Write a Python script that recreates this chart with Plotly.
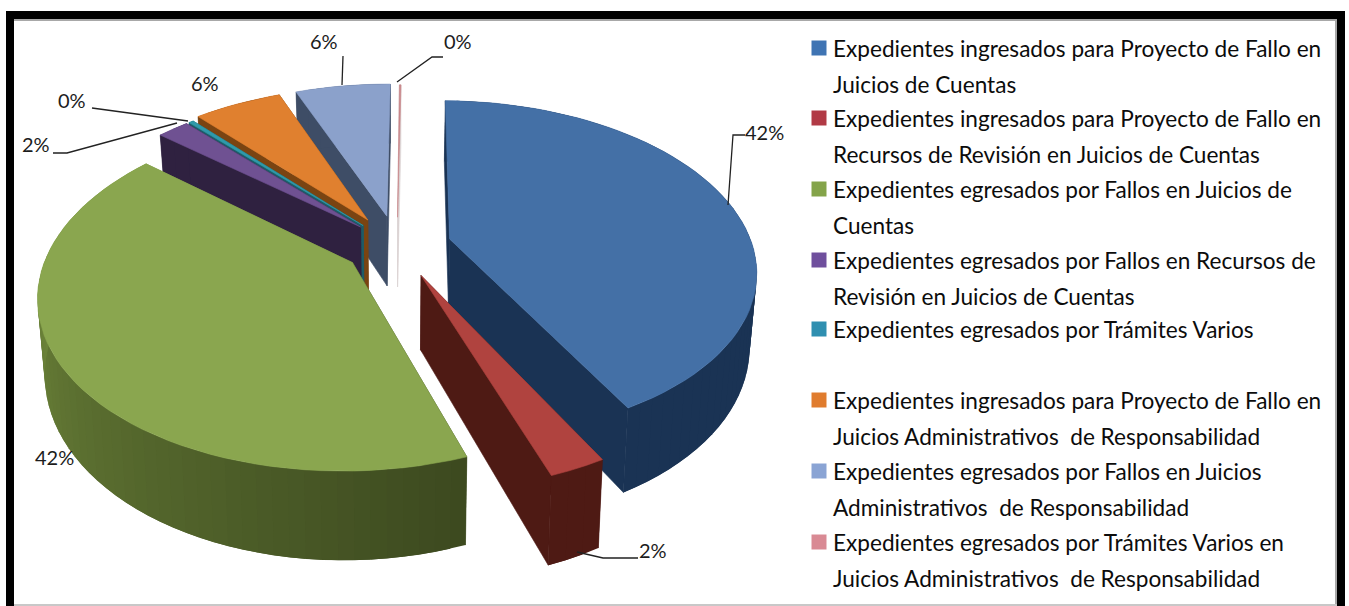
import math
import plotly.graph_objects as go

# ---- data ----
categories = [
    "Expedientes ingresados para Proyecto de Fallo en<br>Juicios de Cuentas",
    "Expedientes ingresados para Proyecto de Fallo en<br>Recursos de Revisión en Juicios de Cuentas",
    "Expedientes egresados por Fallos en Juicios de<br>Cuentas",
    "Expedientes egresados por Fallos en Recursos de<br>Revisión en Juicios de Cuentas",
    "Expedientes egresados por Trámites Varios",
    "Expedientes ingresados para Proyecto de Fallo en<br>Juicios Administrativos  de Responsabilidad",
    "Expedientes egresados por Fallos en Juicios<br>Administrativos  de Responsabilidad",
    "Expedientes egresados por Trámites Varios en<br>Juicios Administrativos  de Responsabilidad",
]
values = [41.9, 2.49, 41.55, 2.0, 0.3, 5.6, 6.06, 0.1]
pull = [0.18, 0.19, 0.175, 0.17, 0.17, 0.19, 0.19, 0.18]

top_colors = ["#4470a6", "#b0433f", "#8aa64f", "#6f5192", "#2f9aaa", "#e0802f", "#8ba1cb", "#c9868a"]
wall_start = ["#1a3354", "#4e1a14", "#3c491f", "#2f2140", "#1d5c68", "#7a4412", "#3e4d66", "#dcd4d4"]
wall_end = ["#1a3354", "#4e1a14", "#7f9b44", "#2f2140", "#1d5c68", "#7a4412", "#3e4d66", "#dcd4d4"]
legend_colors = ["#3f74b3", "#b13a45", "#84a44a", "#6f4f9d", "#2f8fb0", "#e07c2e", "#8aa4d4", "#d98a94"]

legend_y = [48, 118, 189, 260, 329, 400, 471, 542]
legend_dy = 36
label_xy = [(764, 132), (653, 550), (54, 457), (36, 144), (72, 100), (205, 83), (324, 41), (458, 41)]
leaders = [
    [(745, 135), (733, 135), (728, 205)],
    [(577, 552), (603, 558), (638, 558)],
    None,
    [(53, 153), (67, 153), (177, 123)],
    [(92, 108), (188, 121)],
    None,
    [(343, 56), (342, 85)],
    [(443, 57), (432, 57), (397, 82)],
]

# ---- projection of the tilted, exploded disc ----
CX, CY = 397, 246
A, B = 303, 165
K = 0.1765
DEPTH = 72
SHRINK = 0.98
ROTATION = math.radians(0.8)


def project(x, y, low=False):
    s = 1 / (1 - K * y)
    px = A * x * s
    py = CY + B * y * s
    if low:
        return CX + px * SHRINK, py + DEPTH * s
    return CX + px, py


def hexmix(a, b, t):
    ca = [int(a[i:i + 2], 16) for i in (1, 3, 5)]
    cb = [int(b[i:i + 2], 16) for i in (1, 3, 5)]
    return "#%02x%02x%02x" % tuple(round(u + (v - u) * t) for u, v in zip(ca, cb))


fig = go.Figure()


def poly(points, color, width=0.6):
    xs = [p[0] for p in points] + [points[0][0]]
    ys = [p[1] for p in points] + [points[0][1]]
    fig.add_trace(go.Scatter(x=xs, y=ys, mode="lines", fill="toself", fillcolor=color,
                             line=dict(color=color, width=width), hoverinfo="skip",
                             showlegend=False))


total = sum(values)
cum = 0
slices = []
for i, v in enumerate(values):
    a0 = cum / total * 2 * math.pi + ROTATION
    cum += v
    a1 = cum / total * 2 * math.pi + ROTATION
    slices.append((a0, a1))

draw_order = [7, 6, 5, 4, 3, 0, 1, 2]
for i in draw_order:
    a0, a1 = slices[i]
    mid = (a0 + a1) / 2
    ox, oy = pull[i] * math.sin(mid), -pull[i] * math.cos(mid)
    n = max(2, int((a1 - a0) / math.radians(2.5)))
    angs = [a0 + (a1 - a0) * j / n for j in range(n + 1)]
    rim = [(ox + math.sin(t), oy - math.cos(t)) for t in angs]
    apex_top, apex_low = project(ox, oy), project(ox, oy, True)
    # radial walls
    poly([apex_top, project(*rim[0]), project(*rim[0], True), apex_low], wall_start[i])
    poly([apex_top, project(*rim[-1]), project(*rim[-1], True), apex_low], wall_end[i])
    # outer wall, shaded along the arc: each band is painted over its neighbour so no seams show
    for j in range(n):
        upto = min(j + 2, n)
        band = rim[j:upto + 1]
        poly([project(*p) for p in band] + [project(*p, True) for p in reversed(band)],
             hexmix(wall_start[i], wall_end[i], (j + 0.5) / n), width=0)
    # top face
    poly([apex_top] + [project(*p) for p in rim], top_colors[i])

# leader lines
for pts in leaders:
    if pts:
        fig.add_trace(go.Scatter(x=[p[0] for p in pts], y=[p[1] for p in pts], mode="lines",
                                 line=dict(color="#222222", width=1.3), hoverinfo="skip",
                                 showlegend=False))

# legend swatches
fig.add_trace(go.Scatter(x=[819] * len(legend_y), y=legend_y, mode="markers",
                         marker=dict(symbol="square", size=15, color=legend_colors),
                         hoverinfo="skip", showlegend=False))

FONT = "Lato"
annotations = []
for i, v in enumerate(values):
    lx, ly = label_xy[i]
    annotations.append(dict(x=lx, y=ly, xref="x", yref="y", text=f"{round(v)}%", showarrow=False,
                            font=dict(family=FONT, size=20, color="#1c1c1c")))
for name, ly in zip(categories, legend_y):
    for j, part in enumerate(name.split("<br>")):
        annotations.append(dict(x=831, y=ly + j * legend_dy, xref="x", yref="y", text=part,
                                showarrow=False, xanchor="left",
                                font=dict(family=FONT, size=22.6, color="#0c0c0c")))

shapes = []
for x0, y0, x1, y1, c in [
    (6, 11, 1345, 19, "#000000"), (6, 11, 14, 606, "#000000"), (1337, 11, 1345, 606, "#000000"),
    (14, 19, 1337, 21, "#a8a8a8"), (1335, 21, 1337, 606, "#a8a8a8"), (14, 604, 1337, 606, "#c8c8c8"),
]:
    shapes.append(dict(type="rect", xref="x", yref="y", x0=x0, y0=y0, x1=x1, y1=y1,
                       fillcolor=c, line=dict(width=0), layer="above"))

fig.update_layout(
    width=1349, height=606, margin=dict(l=0, r=0, t=0, b=0),
    paper_bgcolor="white", plot_bgcolor="white", showlegend=False,
    xaxis=dict(range=[0, 1349], visible=False, fixedrange=True),
    yaxis=dict(range=[606, 0], visible=False, fixedrange=True),
    annotations=annotations, shapes=shapes,
)
fig.write_html("out.html", post_script="document.body.style.margin='0';", config={"displayModeBar": False})
